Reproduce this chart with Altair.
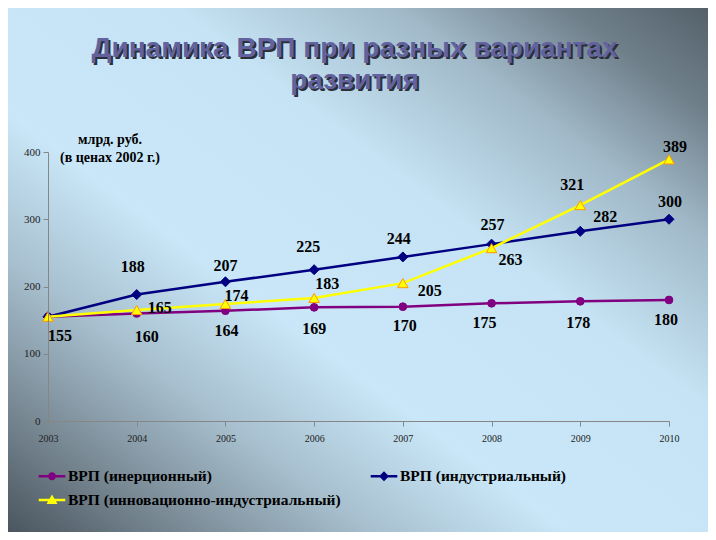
import altair as alt
import pandas as pd

# ---------------- data ----------------
YEARS = [2003, 2004, 2005, 2006, 2007, 2008, 2009, 2010]
SERIES = ["ВРП (инерционный)", "ВРП (индустриальный)", "ВРП (инновационно-индустриальный)"]
INERTIAL = [155, 160, 164, 169, 170, 175, 178, 180]
INDUSTRIAL = [155, 188, 207, 225, 244, 263, 282, 300]
INNOVATIVE = [155, 165, 174, 183, 205, 257, 321, 389]
Y_TICKS = [0, 100, 200, 300, 400]
TITLE_LINES = ["Динамика ВРП при разных вариантах", "развития"]
UNIT_LINES = ["млрд. руб.", "(в ценах 2002 г.)"]

# ---------------- style ----------------
W, H = 621, 269
PAD = {"left": 40, "top": 144, "right": 39, "bottom": 111}
COLORS = ["#800080", "#000080", "#ffff00"]
SHAPES = ["circle", "diamond", "triangle-up"]
SIZES = [60, 100, 110]
STROKES = ["#800080", "#000080", "#ff9900"]
BAR = "M-1.33,-0.13H1.33V0.13H-1.33Z "
LEGEND_PATHS = [
    BAR + "M0.4,0A0.4,0.4 0 1,1 -0.4,0A0.4,0.4 0 1,1 0.4,0Z",
    BAR + "M0,-0.5L0.5,0L0,0.5L-0.5,0Z",
    BAR + "M0,-0.55L0.55,0.4L-0.55,0.4Z",
]
# label offsets in pixels (dx, dy) relative to each point; None = no label
LABEL_OFFSETS = [
    [(12, 19), (10, 24), (1, 20), (0, 22), (2, 19), (-7, 20), (-2, 22), (-3, 20)],
    [None, (-4, -28), (0, -16), (-6, -23), (-4, -18), (19, 16), (25, -14), (1, -17)],
    [None, (23, -2), (11, -8), (13, -14), (27, 8), (1, -23), (-8, -20), (6, -12)],
]
PX_PER_YEAR = W / (YEARS[-1] - YEARS[0])
PX_PER_UNIT = H / (Y_TICKS[-1] - Y_TICKS[0])

rows = []
for si, (name, vals) in enumerate(zip(SERIES, [INERTIAL, INDUSTRIAL, INNOVATIVE])):
    for yi, (yr, v) in enumerate(zip(YEARS, vals)):
        off = LABEL_OFFSETS[si][yi]
        rows.append({
            "series": name, "year": yr, "value": v,
            "dx": off[0] if off else 0, "dy": off[1] if off else 0,
            "show": off is not None,
        })
df = pd.DataFrame(rows)
one = pd.DataFrame({"k": [0]})

xscale = alt.Scale(domain=[YEARS[0], YEARS[-1]], nice=False, zero=False)
yscale = alt.Scale(domain=[Y_TICKS[0], Y_TICKS[-1]], nice=False)

xaxis = alt.Axis(values=YEARS, format="d", title=None, grid=False, zindex=1,
                 labelFont="Liberation Serif", labelFontSize=10, labelColor="#222222",
                 domainColor="#868686", tickColor="#868686", tickSize=5,
                 labelPadding=7, labelFlush=False)
yaxis = alt.Axis(values=Y_TICKS, title=None, grid=False, zindex=1,
                 labelFont="Liberation Serif", labelFontSize=11, labelColor="#222222",
                 domainColor="#868686", tickColor="#868686", tickSize=5,
                 labelPadding=3)


def X(field):
    return alt.X(field, scale=xscale, axis=xaxis, title=None)


def Y(field):
    return alt.Y(field, scale=yscale, axis=yaxis, title=None)


# background gradient
grad = alt.LinearGradient(
    gradient="linear", x1=1, y1=0, x2=0, y2=1,
    stops=[
        alt.GradientStop(color="#54616b", offset=0),
        alt.GradientStop(color="#6f7f8a", offset=0.1),
        alt.GradientStop(color="#a0b8c7", offset=0.22),
        alt.GradientStop(color="#c5e3f4", offset=0.38),
        alt.GradientStop(color="#c9e7f8", offset=0.6),
        alt.GradientStop(color="#a7bfce", offset=0.74),
        alt.GradientStop(color="#778792", offset=0.88),
        alt.GradientStop(color="#4a555f", offset=1),
    ],
)
bg = alt.Chart(one).mark_rect(fill=grad).encode(
    x=alt.value(-PAD["left"]), x2=alt.value(W + PAD["right"]),
    y=alt.value(-PAD["top"]), y2=alt.value(H + PAD["bottom"]),
)

title_kw = dict(text=TITLE_LINES, font="Liberation Sans", fontSize=28, fontWeight="bold",
                lineHeight=32, align="center", baseline="alphabetic")
title_shadow = alt.Chart(one).mark_text(fill="#2b2f3a", **title_kw).encode(
    x=alt.value(308.5), y=alt.value(-93.5))
title_main = alt.Chart(one).mark_text(fill="#62629f", **title_kw).encode(
    x=alt.value(306.5), y=alt.value(-95.5))

unit_title = alt.Chart(one).mark_text(
    text=UNIT_LINES, font="Liberation Serif", fontSize=14, fontWeight="bold",
    lineHeight=18, align="center", baseline="alphabetic", fill="black",
).encode(x=alt.value(62), y=alt.value(-8))

layers = [bg, title_shadow, title_main, unit_title]
for i, name in enumerate(SERIES):
    base = alt.Chart(df).transform_filter(alt.datum.series == name)
    line = base.mark_line(color=COLORS[i], strokeWidth=2.5).encode(
        x=X("year:Q"), y=Y("value:Q"))
    pts = base.mark_point(shape=SHAPES[i], filled=True, size=SIZES[i], fill=COLORS[i],
                          stroke=STROKES[i], strokeWidth=1, opacity=1).encode(
        x=X("year:Q"), y=Y("value:Q"))
    layers += [line, pts]

labels = alt.Chart(df).transform_filter("datum.show").transform_calculate(
    lx=f"datum.year + datum.dx / {PX_PER_YEAR}",
    ly=f"datum.value - datum.dy / {PX_PER_UNIT}",
).mark_text(font="Liberation Serif", fontSize=16, fontWeight="bold", color="black",
            align="center", baseline="middle").encode(
    x=X("lx:Q"), y=Y("ly:Q"), text=alt.Text("value:Q"),
)
layers.append(labels)

leg = alt.Legend(title=None, orient="none", legendX=-6, legendY=314, columns=2,
                 direction="horizontal", columnPadding=29, rowPadding=5,
                 symbolSize=400, symbolStrokeWidth=0,
                 labelOffset=6, labelFont="Liberation Serif", labelFontSize=15.5,
                 labelFontWeight="bold", labelColor="black", labelLimit=0, padding=0)
legend_layer = alt.Chart(df).transform_filter("false").mark_point(filled=True, opacity=1).encode(
    x=X("year:Q"), y=Y("value:Q"),
    color=alt.Color("series:N", scale=alt.Scale(domain=SERIES, range=COLORS), legend=leg),
    shape=alt.Shape("series:N", scale=alt.Scale(domain=SERIES, range=LEGEND_PATHS), legend=leg),
)
layers.append(legend_layer)

chart = alt.layer(*layers).properties(
    width=W, height=H, padding=PAD, autosize="none",
).configure_view(stroke=None)

chart.save("out.html", embed_options={"renderer": "svg", "actions": False})
